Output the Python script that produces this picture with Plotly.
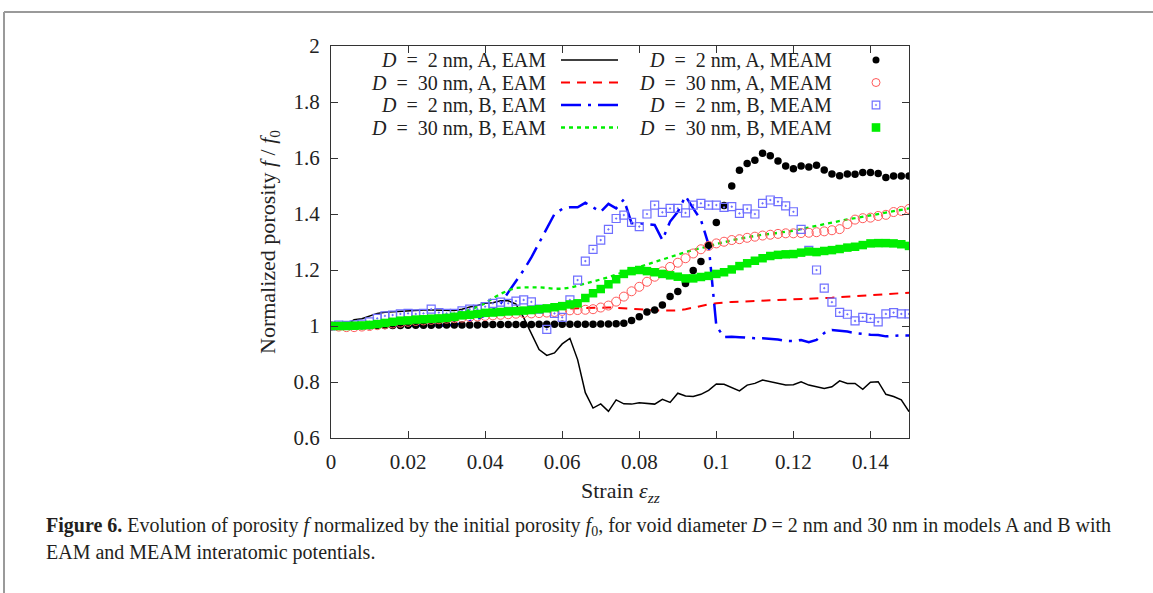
import plotly.graph_objects as go

# ---------------- data ----------------
strain = [0.000, 0.002, 0.004, 0.006, 0.008, 0.010, 0.012, 0.014, 0.016, 0.018,
          0.020, 0.022, 0.024, 0.026, 0.028, 0.030, 0.032, 0.034, 0.036, 0.038,
          0.040, 0.042, 0.044, 0.046, 0.048, 0.050, 0.052, 0.054, 0.056, 0.058,
          0.060, 0.062, 0.064, 0.066, 0.068, 0.070, 0.072, 0.074, 0.076, 0.078,
          0.080, 0.082, 0.084, 0.086, 0.088, 0.090, 0.092, 0.094, 0.096, 0.098,
          0.100, 0.102, 0.104, 0.106, 0.108, 0.110, 0.112, 0.114, 0.116, 0.118,
          0.120, 0.122, 0.124, 0.126, 0.128, 0.130, 0.132, 0.134, 0.136, 0.138,
          0.140, 0.142, 0.144, 0.146, 0.148, 0.150]

# D = 2 nm, A, EAM (black solid)
d2_A_EAM = [1.000, 1.000, 1.005, 1.022, 1.026, 1.035, 1.045, 1.049, 1.051, 1.052,
            1.054, 1.056, 1.057, 1.057, 1.056, 1.055, 1.055, 1.060, 1.068, 1.073,
            1.081, 1.083, 1.090, 1.090, 1.078, 1.030, 0.975, 0.916, 0.895, 0.904,
            0.936, 0.956, 0.880, 0.762, 0.707, 0.722, 0.695, 0.736, 0.722, 0.721,
            0.726, 0.724, 0.721, 0.738, 0.727, 0.760, 0.750, 0.748, 0.756, 0.770,
            0.793, 0.792, 0.780, 0.768, 0.789, 0.795, 0.807, 0.801, 0.795, 0.789,
            0.790, 0.801, 0.789, 0.783, 0.777, 0.783, 0.804, 0.795, 0.795, 0.774,
            0.799, 0.801, 0.756, 0.748, 0.736, 0.694]

# D = 30 nm, A, EAM (red dashed)
d30_A_EAM = [1.000, 1.000, 1.002, 1.004, 1.007, 1.010, 1.013, 1.016, 1.019, 1.022,
             1.025, 1.027, 1.029, 1.031, 1.033, 1.035, 1.037, 1.039, 1.041, 1.043,
             1.045, 1.047, 1.049, 1.051, 1.053, 1.055, 1.057, 1.059, 1.060, 1.061,
             1.062, 1.063, 1.064, 1.065, 1.066, 1.066, 1.066, 1.065, 1.064, 1.062,
             1.060, 1.058, 1.056, 1.055, 1.055, 1.056, 1.060, 1.066, 1.072, 1.077,
             1.081, 1.084, 1.086, 1.087, 1.088, 1.089, 1.090, 1.091, 1.092, 1.093,
             1.094, 1.095, 1.096, 1.097, 1.099, 1.101, 1.103, 1.105, 1.107, 1.109,
             1.111, 1.113, 1.115, 1.117, 1.118, 1.119]

# D = 2 nm, B, EAM (blue dash-dot)
d2_B_EAM = [1.000, 1.000, 1.000, 1.000, 1.000, 1.000, 1.000, 1.000, 1.000, 1.000,
            1.001, 1.001, 1.001, 1.001, 1.002, 1.002, 1.004, 1.010, 1.017, 1.025,
            1.038, 1.058, 1.080, 1.120, 1.160, 1.200, 1.245, 1.295, 1.350, 1.400,
            1.418, 1.424, 1.424, 1.440, 1.424, 1.408, 1.436, 1.420, 1.452, 1.367,
            1.367, 1.365, 1.361, 1.307, 1.373, 1.408, 1.464, 1.420, 1.379, 1.290,
            1.000, 0.960, 0.962, 0.960, 0.957, 0.956, 0.956, 0.955, 0.952, 0.947,
            0.946, 0.950, 0.942, 0.950, 0.975, 0.986, 0.984, 0.980, 0.975, 0.971,
            0.969, 0.968, 0.963, 0.965, 0.967, 0.966]

# D = 30 nm, B, EAM (green dotted)
d30_B_EAM = [1.000, 1.000, 1.001, 1.003, 1.005, 1.008, 1.011, 1.014, 1.017, 1.020,
             1.023, 1.026, 1.029, 1.032, 1.035, 1.037, 1.043, 1.050, 1.058, 1.068,
             1.081, 1.099, 1.115, 1.127, 1.136, 1.138, 1.139, 1.138, 1.136, 1.133,
             1.133, 1.137, 1.144, 1.151, 1.158, 1.165, 1.174, 1.184, 1.193, 1.202,
             1.211, 1.220, 1.229, 1.239, 1.248, 1.257, 1.264, 1.271, 1.277, 1.285,
             1.293, 1.300, 1.306, 1.312, 1.317, 1.322, 1.326, 1.329, 1.332, 1.336,
             1.340, 1.346, 1.352, 1.358, 1.364, 1.370, 1.376, 1.381, 1.385, 1.390,
             1.395, 1.400, 1.404, 1.409, 1.414, 1.420]

# D = 2 nm, A, MEAM (black filled circles)
d2_A_MEAM = [1.000, 1.000, 1.000, 1.001, 1.001, 1.001, 1.002, 1.002, 1.002, 1.002,
             1.003, 1.003, 1.003, 1.003, 1.004, 1.004, 1.004, 1.004, 1.004, 1.004,
             1.005, 1.005, 1.005, 1.005, 1.005, 1.005, 1.005, 1.006, 1.006, 1.006,
             1.006, 1.006, 1.006, 1.006, 1.006, 1.007, 1.007, 1.008, 1.010, 1.020,
             1.033, 1.050, 1.057, 1.075, 1.105, 1.123, 1.152, 1.198, 1.230, 1.288,
             1.370, 1.430, 1.500, 1.556, 1.580, 1.592, 1.617, 1.608, 1.589, 1.571,
             1.562, 1.571, 1.568, 1.574, 1.557, 1.543, 1.537, 1.543, 1.542, 1.548,
             1.548, 1.545, 1.530, 1.536, 1.536, 1.536]

# D = 30 nm, A, MEAM (red open circles)
d30_A_MEAM = [1.000, 0.998, 0.996, 0.996, 0.998, 1.000, 1.003, 1.006, 1.009, 1.012,
              1.015, 1.018, 1.020, 1.022, 1.024, 1.026, 1.028, 1.030, 1.032, 1.034,
              1.036, 1.038, 1.040, 1.042, 1.044, 1.046, 1.045, 1.046, 1.048, 1.050,
              1.054, 1.056, 1.057, 1.058, 1.060, 1.066, 1.073, 1.087, 1.105, 1.124,
              1.140, 1.158, 1.176, 1.195, 1.211, 1.226, 1.242, 1.259, 1.274, 1.286,
              1.295, 1.301, 1.307, 1.310, 1.315, 1.319, 1.323, 1.326, 1.329, 1.331,
              1.331, 1.332, 1.333, 1.335, 1.338, 1.342, 1.346, 1.364, 1.380, 1.385,
              1.387, 1.393, 1.397, 1.407, 1.411, 1.418]

# D = 2 nm, B, MEAM (blue open squares)
d2_B_MEAM = [1.000, 1.003, 1.002, 1.004, 1.007, 1.015, 1.027, 1.036, 1.039, 1.043,
             1.045, 1.043, 1.045, 1.060, 1.048, 1.045, 1.045, 1.054, 1.060, 1.060,
             1.069, 1.081, 1.085, 1.081, 1.089, 1.093, 1.086, 1.060, 0.988, 1.045,
             1.031, 1.093, 1.164, 1.232, 1.274, 1.307, 1.345, 1.384, 1.396, 1.370,
             1.355, 1.400, 1.432, 1.406, 1.420, 1.420, 1.404, 1.432, 1.438, 1.432,
             1.432, 1.424, 1.426, 1.402, 1.418, 1.400, 1.438, 1.450, 1.444, 1.429,
             1.408, 1.345, 1.270, 1.200, 1.135, 1.085, 1.049, 1.042, 1.018, 1.031,
             1.027, 1.015, 1.043, 1.048, 1.043, 1.043]

# D = 30 nm, B, MEAM (green filled squares)
d30_B_MEAM = [1.000, 1.000, 1.000, 1.001, 1.002, 1.004, 1.007, 1.011, 1.015, 1.019,
              1.020, 1.023, 1.024, 1.026, 1.027, 1.029, 1.033, 1.038, 1.040, 1.043,
              1.047, 1.048, 1.050, 1.052, 1.053, 1.055, 1.057, 1.060, 1.063, 1.067,
              1.071, 1.077, 1.081, 1.100, 1.117, 1.132, 1.149, 1.167, 1.186, 1.196,
              1.200, 1.196, 1.192, 1.186, 1.181, 1.176, 1.170, 1.170, 1.175, 1.179,
              1.186, 1.192, 1.202, 1.214, 1.224, 1.233, 1.242, 1.250, 1.254, 1.256,
              1.257, 1.262, 1.266, 1.264, 1.268, 1.271, 1.275, 1.280, 1.283, 1.289,
              1.295, 1.296, 1.296, 1.295, 1.292, 1.286]

x_tickvals = [0, 0.02, 0.04, 0.06, 0.08, 0.10, 0.12, 0.14]
x_ticktext = ["0", "0.02", "0.04", "0.06", "0.08", "0.1", "0.12", "0.14"]
y_tickvals = [0.6, 0.8, 1.0, 1.2, 1.4, 1.6, 1.8, 2.0]
y_ticktext = ["0.6", "0.8", "1", "1.2", "1.4", "1.6", "1.8", "2"]

EQ = "&nbsp;&nbsp;=&nbsp;&nbsp;"
eam_labels = [f"<i>D</i>{EQ}2 nm, A, EAM", f"<i>D</i>{EQ}30 nm, A, EAM",
              f"<i>D</i>{EQ}2 nm, B, EAM", f"<i>D</i>{EQ}30 nm, B, EAM"]
meam_labels = [f"<i>D</i>{EQ}2 nm, A, MEAM", f"<i>D</i>{EQ}30 nm, A, MEAM",
               f"<i>D</i>{EQ}2 nm, B, MEAM", f"<i>D</i>{EQ}30 nm, B, MEAM"]

# ---------------- layout geometry (page pixels) ----------------
W, H = 1153, 593
L, R, T, B = 331, 909, 46, 438
SERIF = "Liberation Serif, DejaVu Serif, serif"
TXT = "#222222"


def px(x):
    return (x - L) / (R - L)


def py(y):
    return (B - y) / (B - T)


fig = go.Figure()

# EAM lines
line_styles = [
    dict(color="#000000", width=1.5, dash="solid"),
    dict(color="#ff0000", width=2, dash="9px,7px"),
    dict(color="#0000ff", width=2.5, dash="20px,7px,3px,7px"),
    dict(color="#00ee00", width=2.3, dash="4px,4px"),
]
eam_series = [d2_A_EAM, d30_A_EAM, d2_B_EAM, d30_B_EAM]
for name, ys, st in zip(eam_labels, eam_series, line_styles):
    fig.add_trace(go.Scatter(x=strain, y=ys, mode="lines", name=name, line=st))

# MEAM markers
marker_styles = [
    dict(symbol="circle", size=7.5, color="#000000"),
    dict(symbol="circle-open", size=9, color="#ff5a5a", line=dict(width=1)),
    dict(symbol="square-open-dot", size=8, color="#6f6fff", line=dict(width=1.2)),
    dict(symbol="square", size=8.5, color="#00ee00"),
]
meam_series = [d2_A_MEAM, d30_A_MEAM, d2_B_MEAM, d30_B_MEAM]
for name, ys, mk in zip(meam_labels, meam_series, marker_styles):
    fig.add_trace(go.Scatter(x=strain, y=ys, mode="markers", name=name, marker=mk))

axis_common = dict(
    showgrid=False, zeroline=False, showline=True, linecolor="#333333", linewidth=1,
    ticks="inside", ticklen=7, tickcolor="#333333", mirror="ticks",
    tickfont=dict(family=SERIF, size=21, color=TXT),
)
fig.update_xaxes(range=[0, 0.15], tickvals=x_tickvals, ticktext=x_ticktext,
                 ticklabelstandoff=5, **axis_common)
fig.update_yaxes(range=[0.6, 2.0], tickvals=y_tickvals, ticktext=y_ticktext,
                 ticklabelstandoff=6, **axis_common)

annotations = []
shapes = []

# axis titles
annotations.append(dict(
    x=px(269), y=0.5, xref="paper", yref="paper", textangle=-90,
    text="Normalized porosity <i>f</i> / <i>f</i><sub>0</sub>",
    showarrow=False, font=dict(family=SERIF, size=22, color=TXT),
    xanchor="center", yanchor="middle"))
annotations.append(dict(
    x=px(620), y=py(492), xref="paper", yref="paper",
    text="Strain <i>ε<sub>zz</sub></i>",
    showarrow=False, font=dict(family=SERIF, size=22, color=TXT),
    xanchor="center", yanchor="middle"))

# custom gnuplot-style legend: text then sample
row_y = [60, 82.5, 105, 127.5]
col1_text_x, samp_x0, samp_x1 = 548, 561, 618
col2_text_x, mark_x = 834, 876
for i in range(4):
    yy = row_y[i]
    annotations.append(dict(
        x=px(col1_text_x), y=py(yy), xref="paper", yref="paper", text=eam_labels[i],
        showarrow=False, xanchor="right", yanchor="middle",
        font=dict(family=SERIF, size=20, color=TXT)))
    annotations.append(dict(
        x=px(col2_text_x), y=py(yy), xref="paper", yref="paper", text=meam_labels[i],
        showarrow=False, xanchor="right", yanchor="middle",
        font=dict(family=SERIF, size=20, color=TXT)))
    st = line_styles[i]
    shapes.append(dict(type="line", xref="paper", yref="paper",
                       x0=px(samp_x0), x1=px(samp_x1), y0=py(yy), y1=py(yy),
                       line=dict(color=st["color"], width=st["width"], dash=st["dash"])))

# legend marker keys
r = 3.5
yy = row_y[0]
shapes.append(dict(type="circle", xref="paper", yref="paper",
                   x0=px(mark_x - r), x1=px(mark_x + r), y0=py(yy + r), y1=py(yy - r),
                   fillcolor="#000000", line=dict(color="#000000", width=0)))
r = 4
yy = row_y[1]
shapes.append(dict(type="circle", xref="paper", yref="paper",
                   x0=px(mark_x - r), x1=px(mark_x + r), y0=py(yy + r), y1=py(yy - r),
                   line=dict(color="#ff5a5a", width=1)))
r = 3.8
yy = row_y[2]
shapes.append(dict(type="rect", xref="paper", yref="paper",
                   x0=px(mark_x - r), x1=px(mark_x + r), y0=py(yy + r), y1=py(yy - r),
                   line=dict(color="#6f6fff", width=1.2)))
shapes.append(dict(type="rect", xref="paper", yref="paper",
                   x0=px(mark_x - 0.6), x1=px(mark_x + 0.6), y0=py(yy + 0.6), y1=py(yy - 0.6),
                   fillcolor="#6f6fff", line=dict(color="#6f6fff", width=0.5)))
r = 4.3
yy = row_y[3]
shapes.append(dict(type="rect", xref="paper", yref="paper",
                   x0=px(mark_x - r), x1=px(mark_x + r), y0=py(yy + r), y1=py(yy - r),
                   fillcolor="#00ee00", line=dict(color="#00ee00", width=0)))

# page frame lines (top and left)
shapes.append(dict(type="line", xref="paper", yref="paper",
                   x0=px(4), x1=px(W), y0=py(12), y1=py(12),
                   line=dict(color="#9a9a9a", width=2)))
shapes.append(dict(type="line", xref="paper", yref="paper",
                   x0=px(4), x1=px(4), y0=py(12), y1=py(H),
                   line=dict(color="#9a9a9a", width=2)))

# caption
CAP = "Liberation Serif, serif"
annotations.append(dict(
    x=px(44), y=py(526), xref="paper", yref="paper", xanchor="left", yanchor="middle",
    showarrow=False, font=dict(family=CAP, size=20, color="#231f20"),
    text=("<b>Figure 6.</b> Evolution of porosity <i>f</i> normalized by the initial porosity "
          "<i>f</i><sub>0</sub>, for void diameter <i>D</i> = 2 nm and 30 nm in models A and B with")))
annotations.append(dict(
    x=px(44), y=py(552), xref="paper", yref="paper", xanchor="left", yanchor="middle",
    showarrow=False, font=dict(family=CAP, size=20, color="#231f20"),
    text="EAM and MEAM interatomic potentials."))

fig.update_layout(
    width=W, height=H,
    margin=dict(l=L, r=W - R, t=T, b=H - B, pad=0),
    plot_bgcolor="white", paper_bgcolor="white",
    showlegend=False,
    annotations=annotations, shapes=shapes,
)

# remove the default 8px body margin so the figure sits at the window origin
fig.write_html("out.html",
               config={"displayModeBar": False},
               post_script="document.body.style.margin='0px';document.body.style.overflow='hidden';")
